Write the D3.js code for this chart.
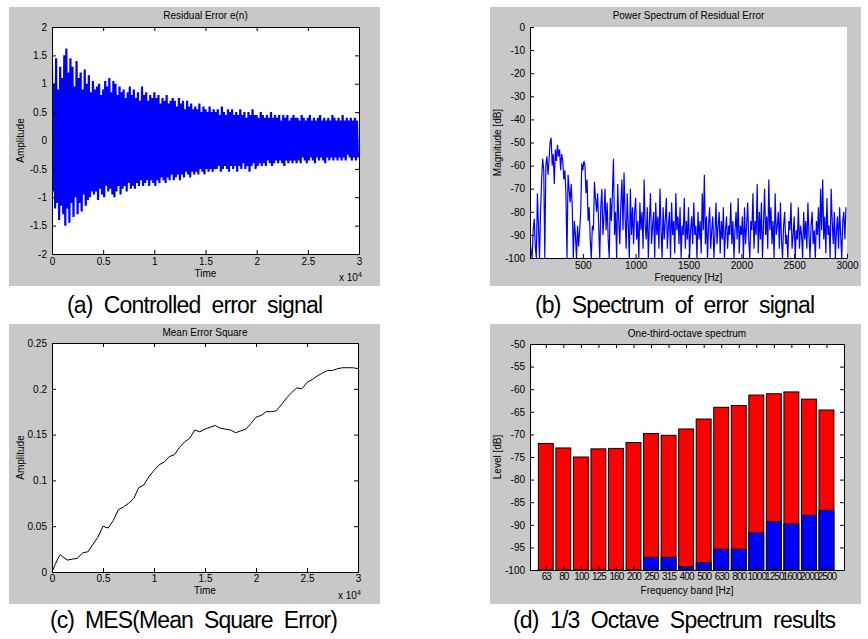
<!DOCTYPE html>
<html lang="en">
<head>
<meta charset="UTF-8">
<title>ANC error results</title>
<script src="https://d3js.org/d3.v7.min.js"></script>
<style>
  body { margin: 0; background: #fff; }
  svg { display: block; font-family: "Liberation Sans", Arial, sans-serif; }
  .tick text { font-size: 10px; fill: #000; }
  .frame { fill: #c8c8c8; }
  .ttl, .lbl { font-size: 10px; fill: #000; }
  .caption { font-size: 23px; fill: #000; white-space: pre; }
</style>
</head>
<body>
<svg id="fig" width="868" height="639"></svg>
<script>
// --- (a) residual error: upper / lower swing per 200 samples ---
const errTop = [
  1.35, 1.0, 1.45, 0.9, 1.3, 1.1, 1.5, 1.62, 1.2, 1.45,
  1.3, 0.95, 1.4, 1.1, 1.2, 0.9, 1.25, 1.0, 1.15, 0.85,
  1.05, 0.9, 0.95, 1.0, 0.8, 0.9, 1.05, 0.95, 1.1, 0.85,
  1.05, 1.0, 0.8, 0.95, 0.85, 0.9, 0.75, 0.85, 0.95, 0.8,
  0.9, 0.75, 0.85, 0.7, 0.95, 0.8, 0.85, 0.7, 0.8, 0.75,
  0.85, 0.75, 0.8, 0.65, 0.75, 0.7, 0.8, 0.65, 0.7, 0.75,
  0.7, 0.6, 0.75, 0.65, 0.7, 0.55, 0.7, 0.6, 0.65, 0.55,
  0.6, 0.55, 0.65, 0.5, 0.6, 0.55, 0.5, 0.6, 0.5, 0.55,
  0.5, 0.55, 0.45, 0.6, 0.5, 0.45, 0.55, 0.5, 0.55, 0.45,
  0.5, 0.45, 0.55, 0.45, 0.5, 0.4, 0.5, 0.45, 0.55, 0.45,
  0.45, 0.4, 0.5, 0.45, 0.4, 0.45, 0.4, 0.5, 0.4, 0.45,
  0.4, 0.45, 0.35, 0.45, 0.4, 0.45, 0.35, 0.4, 0.45, 0.4,
  0.4, 0.35, 0.45, 0.4, 0.35, 0.4, 0.45, 0.35, 0.4, 0.35,
  0.4, 0.45, 0.35, 0.4, 0.35, 0.4, 0.35, 0.45, 0.4, 0.35,
  0.4, 0.35, 0.45, 0.35, 0.4, 0.35, 0.4, 0.35, 0.4, 0.35
];
const errBottom = [
  -0.9, -1.2, -1.1, -1.4, -1.15, -1.3, -1.5, -1.2, -1.45, -1.1,
  -1.35, -1.0, -1.3, -1.1, -1.25, -0.95, -1.15, -1.05, -1.0, -0.9,
  -0.95, -0.9, -1.05, -0.85, -0.95, -1.0, -0.8, -0.9, -0.85, -0.95,
  -1.0, -0.9, -0.8, -0.95, -0.85, -0.8, -0.9, -0.75, -0.85, -0.8,
  -0.85, -0.75, -0.8, -0.7, -0.8, -0.75, -0.7, -0.8, -0.7, -0.75,
  -0.8, -0.7, -0.75, -0.65, -0.7, -0.75, -0.65, -0.7, -0.6, -0.7,
  -0.65, -0.6, -0.7, -0.6, -0.65, -0.55, -0.6, -0.65, -0.55, -0.6,
  -0.55, -0.6, -0.5, -0.55, -0.6, -0.5, -0.55, -0.5, -0.55, -0.5,
  -0.5, -0.45, -0.55, -0.5, -0.45, -0.5, -0.55, -0.45, -0.5, -0.45,
  -0.55, -0.45, -0.5, -0.4, -0.5, -0.45, -0.55, -0.45, -0.4, -0.5,
  -0.45, -0.4, -0.45, -0.4, -0.45, -0.35, -0.4, -0.45, -0.4, -0.35,
  -0.4, -0.35, -0.4, -0.45, -0.35, -0.4, -0.35, -0.4, -0.35, -0.4,
  -0.35, -0.4, -0.3, -0.35, -0.4, -0.35, -0.3, -0.35, -0.4, -0.3,
  -0.35, -0.3, -0.35, -0.4, -0.3, -0.35, -0.3, -0.35, -0.3, -0.35,
  -0.3, -0.35, -0.3, -0.35, -0.25, -0.3, -0.35, -0.3, -0.35, -0.3
];

// --- (b) power spectrum, one value per 10 Hz ---
const spectrumDb = [
  -92, -97, -100, -88, -83, -95, -100, -72, -86, -100,
  -80, -66, -57, -62, -100, -60, -56, -64, -58, -50,
  -48, -60, -55, -68, -53, -58, -51, -56, -53, -62,
  -55, -58, -66, -62, -72, -100, -64, -70, -76, -68,
  -78, -100, -84, -90, -100, -86, -95, -88, -80, -59,
  -62, -58, -60, -72, -66, -84, -78, -92, -100, -86,
  -88, -67, -74, -80, -72, -86, -100, -78, -70, -90,
  -82, -70, -88, -76, -92, -100, -74, -84, -72, -57,
  -90, -80, -100, -68, -84, -94, -76, -66, -88, -63,
  -82, -96, -72, -86, -100, -70, -90, -78, -94, -80,
  -74, -92, -84, -100, -76, -88, -80, -96, -66, -86,
  -92, -78, -100, -84, -72, -94, -86, -80, -100, -76,
  -90, -82, -96, -70, -88, -100, -78, -92, -84, -74,
  -96, -86, -80, -100, -76, -90, -84, -98, -72, -88,
  -82, -94, -78, -100, -86, -90, -74, -96, -84, -92,
  -78, -100, -88, -82, -94, -76, -90, -86, -100, -80,
  -92, -84, -98, -72, -88, -64, -94, -82, -100, -86,
  -78, -96, -88, -82, -100, -90, -76, -94, -86, -80,
  -98, -84, -92, -78, -100, -88, -82, -96, -86, -90,
  -76, -94, -84, -100, -88, -80, -92, -74, -98, -86,
  -90, -82, -100, -78, -94, -86, -76, -92, -100, -84,
  -88, -72, -96, -84, -90, -68, -98, -80, -92, -76,
  -100, -86, -70, -90, -82, -96, -66, -88, -78, -94,
  -84, -100, -72, -90, -86, -80, -96, -76, -92, -100,
  -86, -80, -94, -90, -100, -84, -88, -76, -96, -90,
  -82, -100, -88, -92, -78, -96, -86, -90, -100, -80,
  -92, -84, -96, -76, -90, -100, -86, -80, -94, -88,
  -100, -84, -90, -78, -96, -70, -88, -66, -92, -82,
  -98, -74, -90, -86, -100, -70, -84, -94, -80, -100,
  -88, -82, -96, -78, -90, -100, -84, -80, -92, -78
];
const spectrumStep = 10;

// --- (c) mean error square, time in units of 1e4 ---
const mseTime = [0, 0.03, 0.06, 0.08, 0.1, 0.15, 0.2, 0.25, 0.3, 0.35, 0.4, 0.45, 0.5, 0.55, 0.6,
  0.65, 0.7, 0.75, 0.8, 0.85, 0.9, 0.95, 1.0, 1.05, 1.1, 1.15, 1.2, 1.25, 1.3, 1.35, 1.4,
  1.45, 1.5, 1.55, 1.6, 1.65, 1.7, 1.75, 1.8, 1.85, 1.9, 1.95, 2.0, 2.05, 2.1, 2.15, 2.2,
  2.25, 2.3, 2.35, 2.4, 2.45, 2.5, 2.55, 2.6, 2.65, 2.7, 2.75, 2.8, 2.85, 2.9, 2.95, 3.0];
const mseValue = [0, 0.008, 0.015, 0.019, 0.017, 0.013, 0.014, 0.015, 0.021, 0.022, 0.03, 0.038, 0.05, 0.048, 0.056,
  0.068, 0.071, 0.075, 0.08, 0.092, 0.095, 0.104, 0.111, 0.117, 0.12, 0.126, 0.128, 0.136, 0.142, 0.146, 0.155,
  0.153, 0.156, 0.158, 0.16, 0.157, 0.156, 0.155, 0.152, 0.154, 0.156, 0.162, 0.169, 0.171, 0.175, 0.175, 0.176,
  0.183, 0.19, 0.196, 0.201, 0.2, 0.207, 0.21, 0.214, 0.217, 0.22, 0.22, 0.222, 0.223, 0.223, 0.223, 0.222];

// --- (d) one-third-octave bands ---
const bands = ["63", "80", "100", "125", "160", "200", "250", "315", "400", "500", "630", "800", "1000", "1250", "1600", "2000", "2500"];
const levelBefore = [-72, -73, -75, -73.2, -73.1, -71.8, -69.8, -70.2, -68.8, -66.6, -64, -63.6, -61.3, -61, -60.6, -62.2, -64.6];
const levelAfter = [-100, -100, -100, -100, -100, -100, -97.2, -97.2, -99.3, -98.4, -95.4, -95.4, -91.8, -89.3, -89.8, -87.9, -86.8];

const svg = d3.select("#fig");
const minus = d => String(d);

// gray figure panel + white axes box, returns group with scales
function panel(id, frame, box, xDomain, yDomain) {
  svg.append("rect").attr("class", "frame")
    .attr("x", frame[0]).attr("y", frame[1]).attr("width", frame[2] - frame[0]).attr("height", frame[3] - frame[1]);
  svg.append("rect").attr("fill", "#fff")
    .attr("x", box.l).attr("y", box.t).attr("width", box.r - box.l).attr("height", box.b - box.t);
  svg.append("clipPath").attr("id", "clip-" + id).append("rect")
    .attr("x", box.l).attr("y", box.t).attr("width", box.r - box.l).attr("height", box.b - box.t);
  const x = d3.scaleLinear().domain(xDomain).range([box.l, box.r]);
  const y = d3.scaleLinear().domain(yDomain).range([box.b, box.t]);
  const g = svg.append("g");
  const plot = g.append("g").attr("clip-path", `url(#clip-${id})`);
  return { g, plot, x, y, box };
}

function axes(p, xTicks, xFmt, yTicks, yFmt, boxOn, xPad) {
  const { g, x, y, box } = p;
  const ax = g.append("g");
  const xa = ax.append("g").attr("class", "x-axis").attr("transform", `translate(0,${box.b})`)
    .call(d3.axisBottom(x).tickValues(xTicks).tickFormat(xFmt).tickSizeInner(-4).tickSizeOuter(0).tickPadding(xPad));
  ax.append("g").attr("transform", `translate(${box.l},0)`)
    .call(d3.axisLeft(y).tickValues(yTicks).tickFormat(yFmt).tickSizeInner(-4).tickSizeOuter(0).tickPadding(5));
  if (boxOn) {
    ax.append("g").attr("transform", `translate(0,${box.t})`)
      .call(d3.axisTop(x).tickValues(xTicks).tickFormat("").tickSizeInner(-4).tickSizeOuter(0));
    ax.append("g").attr("transform", `translate(${box.r},0)`)
      .call(d3.axisRight(y).tickValues(yTicks).tickFormat("").tickSizeInner(-4).tickSizeOuter(0));
  }
  ax.selectAll(".domain, .tick line").attr("stroke", "#000");
  return xa;
}

function labels(p, title, xl, yl, titleY, xlY, ylX) {
  const { g, box } = p;
  const cx = (box.l + box.r) / 2;
  g.append("text").attr("class", "ttl").attr("x", cx).attr("y", titleY).attr("text-anchor", "middle").text(title);
  g.append("text").attr("class", "lbl").attr("x", cx).attr("y", xlY).attr("text-anchor", "middle").text(xl);
  g.append("text").attr("class", "lbl").attr("text-anchor", "middle")
    .attr("transform", `translate(${ylX},${(box.t + box.b) / 2}) rotate(-90)`).text(yl);
}

function exponent(p, yPos) {
  const t = p.g.append("text").attr("class", "lbl").attr("x", p.box.r - 20).attr("y", yPos);
  t.append("tspan").text("x 10");
  t.append("tspan").attr("dy", -4).attr("font-size", 7).text("4");
}

function caption(text, x, y, len) {
  svg.append("text").attr("class", "caption").attr("x", x).attr("y", y)
    .attr("textLength", len).attr("lengthAdjust", "spacing").text(text);
}

const timeTicks = d3.range(0, 30001, 5000);
const timeFmt = d => String(d / 1e4);

// (a) Residual Error e(n)
const pa = panel("a", [9, 7, 380, 286], { l: 52, r: 359, t: 27, b: 254 }, [0, 30000], [-2, 2]);
const errPts = [];
errTop.forEach((v, i) => { errPts.push([i * 200, v]); errPts.push([i * 200 + 100, errBottom[i]]); });
pa.plot.append("path").datum(errPts)
  .attr("fill", "none").attr("stroke", "#0000ff").attr("stroke-width", 2.2)
  .attr("d", d3.line().x(d => pa.x(d[0])).y(d => pa.y(d[1])));
axes(pa, timeTicks, timeFmt, d3.range(-2, 2.01, 0.5), minus, true, 4);
labels(pa, "Residual Error e(n)", "Time", "Amplitude", 19, 277, 24);
exponent(pa, 281);

// (b) Power Spectrum of Residual Error
const pb = panel("b", [490, 7, 861, 286], { l: 530, r: 847, t: 27, b: 258 }, [0, 3000], [-100, 0]);
pb.plot.append("path").datum(spectrumDb)
  .attr("fill", "none").attr("stroke", "#0000ff").attr("stroke-width", 1.2)
  .attr("d", d3.line().x((d, i) => pb.x(i * spectrumStep)).y(d => pb.y(d)));
axes(pb, d3.range(500, 3001, 500), minus, d3.range(-100, 1, 10), minus, false, 4);
labels(pb, "Power Spectrum of Residual Error", "Frequency [Hz]", "Magnitude [dB]", 19, 281, 501);

// (c) Mean Error Square
const pc = panel("c", [9, 324, 380, 604], { l: 52, r: 358, t: 343, b: 572 }, [0, 30000], [0, 0.25]);
pc.plot.append("path").datum(mseValue)
  .attr("fill", "none").attr("stroke", "#000").attr("stroke-width", 1)
  .attr("d", d3.line().x((d, i) => pc.x(mseTime[i] * 1e4)).y(d => pc.y(d)));
axes(pc, timeTicks, timeFmt, d3.range(0, 0.251, 0.05), d => String(+d.toFixed(2)), true, 3);
labels(pc, "Mean Error Square", "Time", "Amplitude", 336, 594, 24);
exponent(pc, 599);

// (d) One-third-octave spectrum
const pd = panel("d", [490, 324, 861, 604], { l: 530, r: 844, t: 344, b: 570 }, [0.1, 18], [-100, -50]);
const bw = 0.85;
pd.plot.selectAll(".bar-before").data(levelBefore).enter().append("rect")
  .attr("x", (d, i) => pd.x(i + 1 - bw / 2)).attr("width", pd.x(bw) - pd.x(0))
  .attr("y", d => pd.y(d)).attr("height", d => pd.y(-100) - pd.y(d))
  .attr("fill", "#ff0000").attr("stroke", "#000").attr("stroke-width", 1);
pd.plot.selectAll(".bar-after").data(levelAfter).enter().append("rect")
  .attr("x", (d, i) => pd.x(i + 1 - bw / 2)).attr("width", pd.x(bw) - pd.x(0))
  .attr("y", d => pd.y(d)).attr("height", d => pd.y(-100) - pd.y(d))
  .attr("fill", "#0000ff").attr("stroke", "#000").attr("stroke-width", 1);
const axd = axes(pd, d3.range(1, 18), i => bands[i - 1], d3.range(-100, -49, 5), minus, true, 3);
// band labels are wider than a bar; tighten them so the four-digit ones fit
axd.selectAll(".tick text").attr("font-size", 9).attr("letter-spacing", -0.9);
labels(pd, "One-third-octave spectrum", "Frequency band [Hz]", "Level [dB]", 337, 594, 501);

// captions
caption("(a)  Controlled  error  signal", 67, 313, 256);
caption("(b)  Spectrum  of  error  signal", 535, 313, 280);
caption("(c)  MES(Mean  Square  Error)", 50, 628, 288);
caption("(d)  1/3  Octave  Spectrum  results", 513, 628, 323);
</script>
</body>
</html>
